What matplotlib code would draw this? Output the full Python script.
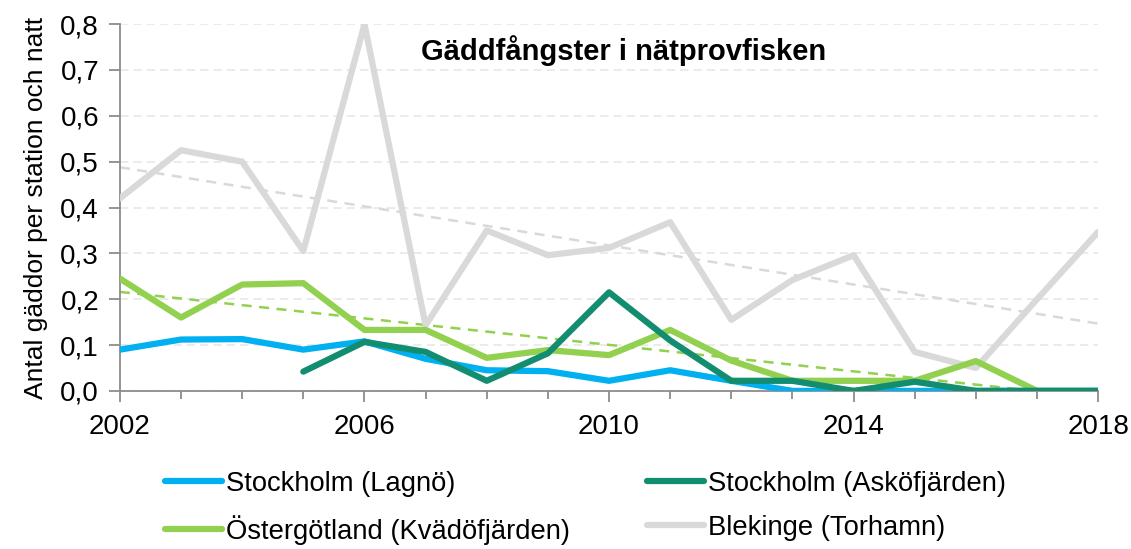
import matplotlib
matplotlib.use("Agg")
import matplotlib.pyplot as plt
import numpy as np
from matplotlib.ticker import MultipleLocator, FixedLocator, FuncFormatter

plt.rcParams['font.family'] = ['Liberation Sans', 'DejaVu Sans']

years = list(range(2002, 2019))

# Antal gäddor per station och natt
lagno = [0.09, 0.112, 0.113, 0.09, 0.108, 0.07, 0.045, 0.043, 0.022, 0.045,
         0.022, 0.0, 0.0, 0.0, 0.0, 0.0, 0.0]
asko_years = list(range(2005, 2019))
asko = [0.042, 0.107, 0.085, 0.022, 0.082, 0.215, 0.11, 0.022, 0.022, 0.0,
        0.02, 0.0, 0.0, 0.0]
kvado = [0.245, 0.16, 0.232, 0.235, 0.133, 0.133, 0.072, 0.089, 0.078, 0.133,
         0.066, 0.022, 0.022, 0.022, 0.065, 0.0, 0.0]
torhamn = [0.42, 0.525, 0.50, 0.305, 0.80, 0.143, 0.35, 0.296, 0.312, 0.368,
           0.155, 0.242, 0.296, 0.085, 0.05, 0.2, 0.347]

c_lagno = '#00B0F0'
c_asko = '#138D6F'
c_kvado = '#92D050'
c_torhamn = '#D9D9D9'

fig = plt.figure(figsize=(11.31, 5.49), dpi=100)
ax = fig.add_axes([0.106, 0.288, 0.865, 0.668])

lw = 4.5
ax.plot(years, torhamn, color=c_torhamn, lw=lw, solid_capstyle='round', label='Blekinge (Torhamn)', zorder=3)
ax.plot(years, kvado, color=c_kvado, lw=lw, solid_capstyle='round', label='Östergötland (Kvädöfjärden)', zorder=4)
ax.plot(asko_years, asko, color=c_asko, lw=lw, solid_capstyle='round', label='Stockholm (Asköfjärden)', zorder=5)
ax.plot(years, lagno, color=c_lagno, lw=lw, solid_capstyle='round', label='Stockholm (Lagnö)', zorder=4.5)

# linjära trender
yr = np.array(years)
for vals, col in [(torhamn, c_torhamn), (kvado, c_kvado)]:
    k, m = np.polyfit(yr, vals, 1)
    ax.plot(yr, k * yr + m, color=col, lw=1.8, ls=(0, (4, 3)), zorder=2)

ax.set_xlim(2002, 2018)
ax.set_ylim(0, 0.8)
ax.xaxis.set_major_locator(FixedLocator([2002, 2006, 2010, 2014, 2018]))
ax.xaxis.set_minor_locator(MultipleLocator(1))
ax.yaxis.set_major_locator(MultipleLocator(0.1))
ax.yaxis.set_major_formatter(FuncFormatter(lambda v, p: f"{v:.1f}".replace('.', ',')))
ax.grid(axis='y', color='#E8E8E8', ls=(0, (5, 3)), lw=1.2, zorder=0)

for s in ['top', 'right']:
    ax.spines[s].set_visible(False)
for s in ['left', 'bottom']:
    ax.spines[s].set_color('#8C8C8C')
    ax.spines[s].set_linewidth(1.3)
ax.tick_params(axis='both', which='both', direction='out', colors='#8C8C8C', labelcolor='black', labelsize=20)
ax.tick_params(axis='x', which='major', length=8, width=1.3, pad=9)
ax.tick_params(axis='x', which='minor', length=6, width=1.3)
ax.tick_params(axis='y', length=8, width=1.3, pad=7)

ax.set_ylabel('Antal gäddor per station och natt', fontsize=19, labelpad=9)
ax.text(0.515, 0.929, 'Gäddfångster i nätprovfisken', transform=ax.transAxes,
        ha='center', va='center', fontsize=21, fontweight='bold')

handles, labels = ax.get_legend_handles_labels()
order = ['Stockholm (Lagnö)', 'Östergötland (Kvädöfjärden)', 'Stockholm (Asköfjärden)', 'Blekinge (Torhamn)']
hmap = dict(zip(labels, handles))
fig.legend([hmap[o] for o in order], order, loc='upper left', bbox_to_anchor=(0.146, 0.142),
           ncol=2, frameon=False, fontsize=19.7, handlelength=2.08, handletextpad=0.15,
           columnspacing=2.8, labelspacing=0.65, borderaxespad=0, borderpad=0)

fig.savefig('out.png', dpi=100)
